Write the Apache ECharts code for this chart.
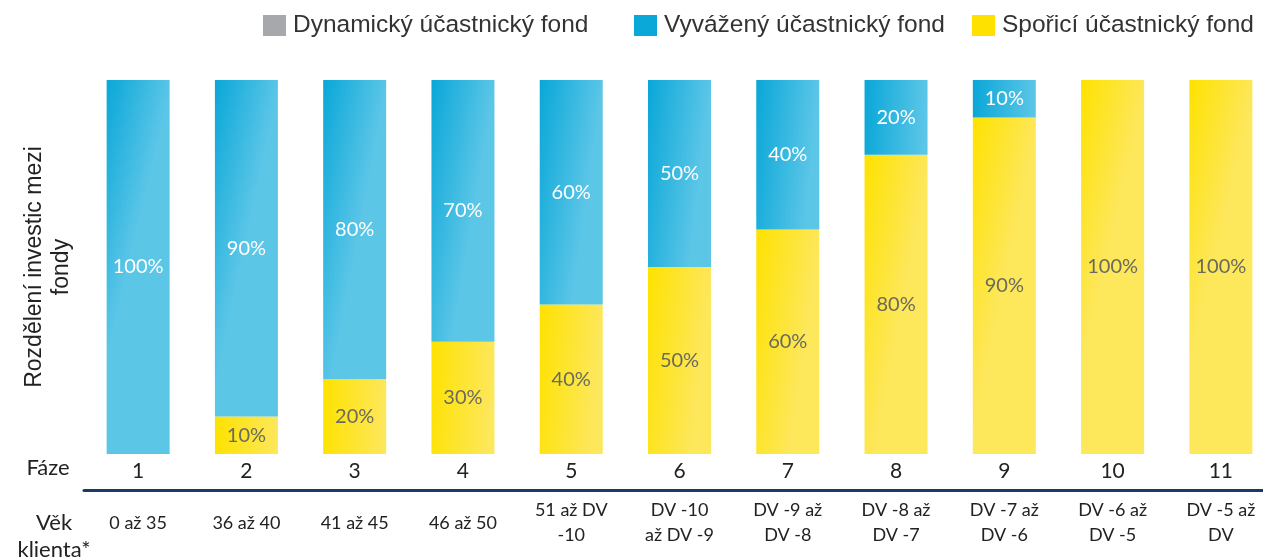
<!DOCTYPE html>
<html>
<head>
<meta charset="utf-8">
<script src="https://cdn.jsdelivr.net/npm/echarts@6/dist/echarts.min.js"></script>
<style>
html, body { margin: 0; padding: 0; background: #fff; }
#chart { width: 1263px; height: 560px; }
</style>
</head>
<body>
<div id="chart"></div>
<script>
var faze = ['1', '2', '3', '4', '5', '6', '7', '8', '9', '10', '11'];
var vekKlienta = ['0 až 35', '36 až 40', '41 až 45', '46 až 50', '51 až DV\n-10', 'DV -10\naž DV -9',
    'DV -9 až\nDV -8', 'DV -8 až\nDV -7', 'DV -7 až\nDV -6', 'DV -6 až\nDV -5', 'DV -5 až\nDV'];
var dynamicky = [0, 0, 0, 0, 0, 0, 0, 0, 0, 0, 0];
var vyvazeny = [100, 90, 80, 70, 60, 50, 40, 20, 10, 0, 0];
var sporici = [0, 10, 20, 30, 40, 50, 60, 80, 90, 100, 100];

var nazvy = ['Dynamický účastnický fond', 'Vyvážený účastnický fond', 'Spořicí účastnický fond'];
var barvyLegendy = ['#a6a8ab', '#0aa7d9', '#ffe100'];
var legendLeft = [258, 629, 967];

var chart = echarts.init(document.getElementById('chart'));

function grad(c1, c2) {
    return new echarts.graphic.LinearGradient(0, 0, 1, 0.04, [
        { offset: 0, color: c1 },
        { offset: 1, color: c2 }
    ]);
}

// popisky jen pro nenulove hodnoty
function pct(p) {
    return p.value ? p.value + '%' : '';
}

// kazda polozka legendy zvlast, v originale nejsou rozestupy stejne
var legends = nazvy.map(function (n, i) {
    return {
        top: 8,
        left: legendLeft[i],
        data: [{ name: n, itemStyle: { color: barvyLegendy[i] } }],
        icon: 'rect',
        itemWidth: 23,
        itemHeight: 21,
        textStyle: {
            fontFamily: 'Liberation Sans',
            fontSize: 24.5,
            color: '#333',
            padding: [0, 0, 0, 2]
        }
    };
});

chart.setOption({
    animation: false,
    legend: legends,
    grid: { left: 84, top: 80, width: 1191, bottom: 106, outerBoundsMode: 'none' },
    xAxis: [{
        type: 'category',
        data: faze,
        axisLine: { show: false },
        axisTick: { show: false },
        axisLabel: {
            margin: 7,
            fontFamily: 'Lato',
            fontSize: 21,
            color: '#222'
        }
    }, {
        type: 'category',
        data: vekKlienta,
        position: 'bottom',
        offset: 36,
        axisLine: { lineStyle: { color: '#1a3a66', width: 3 } },
        axisTick: { show: false },
        axisLabel: {
            margin: 33,
            verticalAlign: 'middle',
            lineHeight: 25,
            fontFamily: 'Lato',
            fontSize: 18,
            color: '#222'
        }
    }],
    yAxis: {
        type: 'value',
        min: 0,
        max: 100,
        show: false
    },
    graphic: [{
        type: 'text',
        x: 48,
        y: 267,
        rotation: Math.PI / 2,
        style: {
            text: 'Rozdělení investic mezi\nfondy',
            fontFamily: 'Liberation Sans',
            fontSize: 23,
            lineHeight: 27,
            fill: '#222',
            align: 'center',
            verticalAlign: 'middle'
        }
    }, {
        type: 'text',
        x: 48,
        y: 468,
        style: {
            text: 'Fáze',
            fontFamily: 'Lato',
            fontSize: 22,
            fill: '#222',
            align: 'center',
            verticalAlign: 'middle'
        }
    }, {
        type: 'text',
        x: 54,
        y: 536,
        style: {
            text: 'Věk\nklienta*',
            fontFamily: 'Lato',
            fontSize: 22,
            lineHeight: 27,
            fill: '#222',
            align: 'center',
            verticalAlign: 'middle'
        }
    }],
    series: [{
        name: nazvy[2],
        type: 'bar',
        stack: 'fondy',
        barWidth: 63,
        data: sporici,
        itemStyle: { color: grad('#fee200', '#fde75a') },
        label: {
            show: true,
            position: 'inside',
            formatter: pct,
            fontFamily: 'Lato',
            fontSize: 20,
            color: '#6a6a5e'
        }
    }, {
        name: nazvy[1],
        type: 'bar',
        stack: 'fondy',
        barWidth: 63,
        data: vyvazeny,
        itemStyle: { color: grad('#09a7d8', '#5cc6e7') },
        label: {
            show: true,
            position: 'inside',
            formatter: pct,
            fontFamily: 'Lato',
            fontSize: 20,
            color: '#fff'
        }
    }, {
        name: nazvy[0],
        type: 'bar',
        stack: 'fondy',
        barWidth: 63,
        data: dynamicky,
        itemStyle: { color: barvyLegendy[0] },
        label: { show: false }
    }]
});
</script>
</body>
</html>
